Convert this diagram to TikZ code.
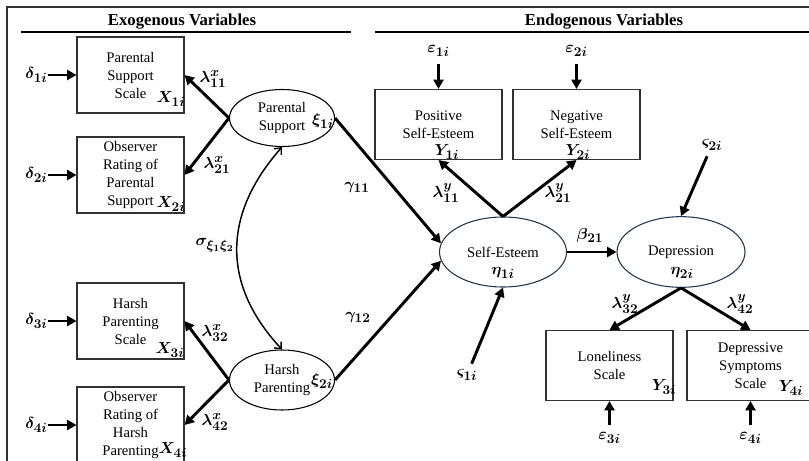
\documentclass[tikz,border=0pt]{standalone}
\usepackage{fontspec}
\setmainfont{Liberation Serif}
\usepackage{amsmath}
\usepackage{bm}
\usetikzlibrary{shapes.geometric,arrows.meta,positioning}
\DeclareMathSizes{13}{13}{9.75}{7}
\definecolor{boxgray}{RGB}{50,50,50}
\definecolor{ellblue}{RGB}{31,56,80}
\newcommand{\sv}[1]{$\bm{#1}$}
\tikzset{
  obsbox/.style={draw=boxgray, line width=0.8pt, rectangle, align=center, inner sep=0pt, font=\fontsize{11}{13.5}\selectfont},
  xbox/.style={obsbox, minimum width=80.25pt, minimum height=57pt},
  ybox/.style={obsbox, minimum width=95.25pt, minimum height=52.5pt},
  latvar/.style={draw, ellipse, line width=0.8pt, align=center, inner sep=0pt, font=\fontsize{11}{13.5}\selectfont},
  sym/.style={inner sep=0.5pt, font=\fontsize{13}{15}\selectfont},
  patharr/.style={line width=2.2pt, -{Triangle[length=7pt,width=7.5pt]}},
  covarr/.style={line width=1.1pt, {Straight Barb[length=4pt,width=7pt]}-{Straight Barb[length=4pt,width=7pt]}},
  headline/.style={line width=1.5pt},
  headtxt/.style={font=\fontsize{12.5}{14}\selectfont\bfseries}
}
\begin{document}
\begin{tikzpicture}[x=0.75pt,y=-0.75pt]
    \useasboundingbox (0,0) rectangle (809,460);
    %Rahmen und Ueberschriften
    \draw[boxgray, line width=0.8pt] (7,470) -- (7,7) -- (815,7);
    \node[headtxt] (exo) at (182,22) {Exogenous Variables};
    \node[headtxt] (endo) at (604,22) {Endogenous Variables};
    \draw[headline] (21,32) -- (351,32);
    \draw[headline] (375,32) -- (815,32);
    %exogene Indikatoren
    \node[xbox] (psscale) at (130.5,75)  {Parental\\Support\\Scale};
    \node[xbox] (psobs)   at (130.5,175) {Observer\\Rating of\\Parental\\Support};
    \node[xbox] (hpscale) at (130.5,321) {Harsh\\Parenting\\Scale};
    \node[xbox] (hpobs)   at (130.5,425) {Observer\\Rating of\\Harsh\\Parenting};
    \node[sym] (x1) at (171,99)  {\sv{X_{1i}}};
    \node[sym] (x2) at (171,204) {\sv{X_{2i}}};
    \node[sym] (x3) at (170,350) {\sv{X_{3i}}};
    \node[sym] (x4) at (173,450) {\sv{X_{4i}}};
    \node[sym, left=21pt of psscale] (d1) {\sv{\delta_{1i}}};
    \node[sym, left=21pt of psobs]   (d2) {\sv{\delta_{2i}}};
    \node[sym, left=21pt of hpscale] (d3) {\sv{\delta_{3i}}};
    \node[sym, left=21pt of hpobs]   (d4) {\sv{\delta_{4i}}};
    \draw[patharr] (d1) -- (psscale);
    \draw[patharr] (d2) -- (psobs);
    \draw[patharr] (d3) -- (hpscale);
    \draw[patharr] (d4) -- (hpobs);
    %exogene Faktoren
    \node[latvar, minimum width=78.75pt, minimum height=42.75pt] (ps) at (282,118) {Parental\\Support};
    \node[latvar, minimum width=78.75pt, minimum height=45pt]    (hp) at (282,380) {Harsh\\Parenting};
    \node[sym] (xi1) at (323,121) {\sv{\xi_{1i}}};
    \node[sym] (xi2) at (322,381) {\sv{\xi_{2i}}};
    \draw[patharr] (ps.west) -- (psscale.east);
    \draw[patharr] (ps.west) -- (psobs.east);
    \draw[patharr] (hp.west) -- (hpscale.east);
    \draw[patharr] (hp.west) -- (hpobs.east);
    \node[sym] (lx11) at (213,79)  {\sv{\lambda^{x}_{11}}};
    \node[sym] (lx21) at (217,165) {\sv{\lambda^{x}_{21}}};
    \node[sym] (lx32) at (215,333) {\sv{\lambda^{x}_{32}}};
    \node[sym] (lx42) at (215,422) {\sv{\lambda^{x}_{42}}};
    \draw[covarr] (ps.south) .. controls (222,215) and (222,285) .. (hp.north);
    \node[sym] (sig) at (215,245) {\sv{\sigma_{\xi_1\xi_2}}};
    %endogene Faktoren
    \node[latvar, draw=ellblue, minimum width=95.25pt, minimum height=52.5pt] (se)  at (503,252) {Self-Esteem};
    \node[latvar, draw=ellblue, minimum width=96pt, minimum height=53pt]      (dep) at (681,252) {Depression};
    \node[sym] (eta1) at (503,273) {\sv{\eta_{1i}}};
    \node[sym] (eta2) at (682,273) {\sv{\eta_{2i}}};
    \draw[patharr] (ps.east) -- (se.172);
    \draw[patharr] (hp.east) -- (se.188);
    \node[sym] (g11) at (357,187) {\sv{\gamma_{11}}};
    \node[sym] (g12) at (358,317) {\sv{\gamma_{12}}};
    \draw[patharr] (se) -- (dep);
    \node[sym] (b21) at (590,235) {\sv{\beta_{21}}};
    \node[sym] (z1) at (467,375) {\sv{\varsigma_{1i}}};
    \node[sym] (z2) at (712,145) {\sv{\varsigma_{2i}}};
    \draw[patharr, shorten <=4pt] (z1) -- (se.south);
    \draw[patharr, shorten <=4pt] (z2) -- (dep.north);
    %endogene Indikatoren
    \node[ybox] (pse) at (438.5,124.5) {Positive\\Self-Esteem};
    \node[ybox] (nse) at (576.5,124.5) {Negative\\Self-Esteem};
    \node[ybox] (lon) at (609.5,365.5) {Loneliness\\Scale};
    \node[ybox] (dsy) at (750.5,365.5) {Depressive\\Symptoms\\Scale};
    \node[sym] (y1) at (447,152) {\sv{Y_{1i}}};
    \node[sym] (y2) at (578,152) {\sv{Y_{2i}}};
    \node[sym] (y3) at (664,387) {\sv{Y_{3i}}};
    \node[sym] (y4) at (791,388) {\sv{Y_{4i}}};
    \draw[patharr] (se.north) -- (pse.south);
    \draw[patharr] (se.north) -- (nse.south);
    \draw[patharr] (dep.south) -- (lon.north);
    \draw[patharr] (dep.south) -- (dsy.north);
    \node[sym] (ly11) at (446,193) {\sv{\lambda^{y}_{11}}};
    \node[sym] (ly21) at (558,193) {\sv{\lambda^{y}_{21}}};
    \node[sym] (ly32) at (625,304) {\sv{\lambda^{y}_{32}}};
    \node[sym] (ly42) at (740,304) {\sv{\lambda^{y}_{42}}};
    \node[sym, above=24pt of pse] (e1) {\sv{\varepsilon_{1i}}};
    \node[sym, above=24pt of nse] (e2) {\sv{\varepsilon_{2i}}};
    \node[sym, below=23pt of lon] (e3) {\sv{\varepsilon_{3i}}};
    \node[sym, below=23pt of dsy] (e4) {\sv{\varepsilon_{4i}}};
    \draw[patharr, shorten <=5pt] (e1) -- (pse);
    \draw[patharr, shorten <=5pt] (e2) -- (nse);
    \draw[patharr, shorten <=5pt] (e3) -- (lon);
    \draw[patharr, shorten <=5pt] (e4) -- (dsy);
\end{tikzpicture}
\end{document}
